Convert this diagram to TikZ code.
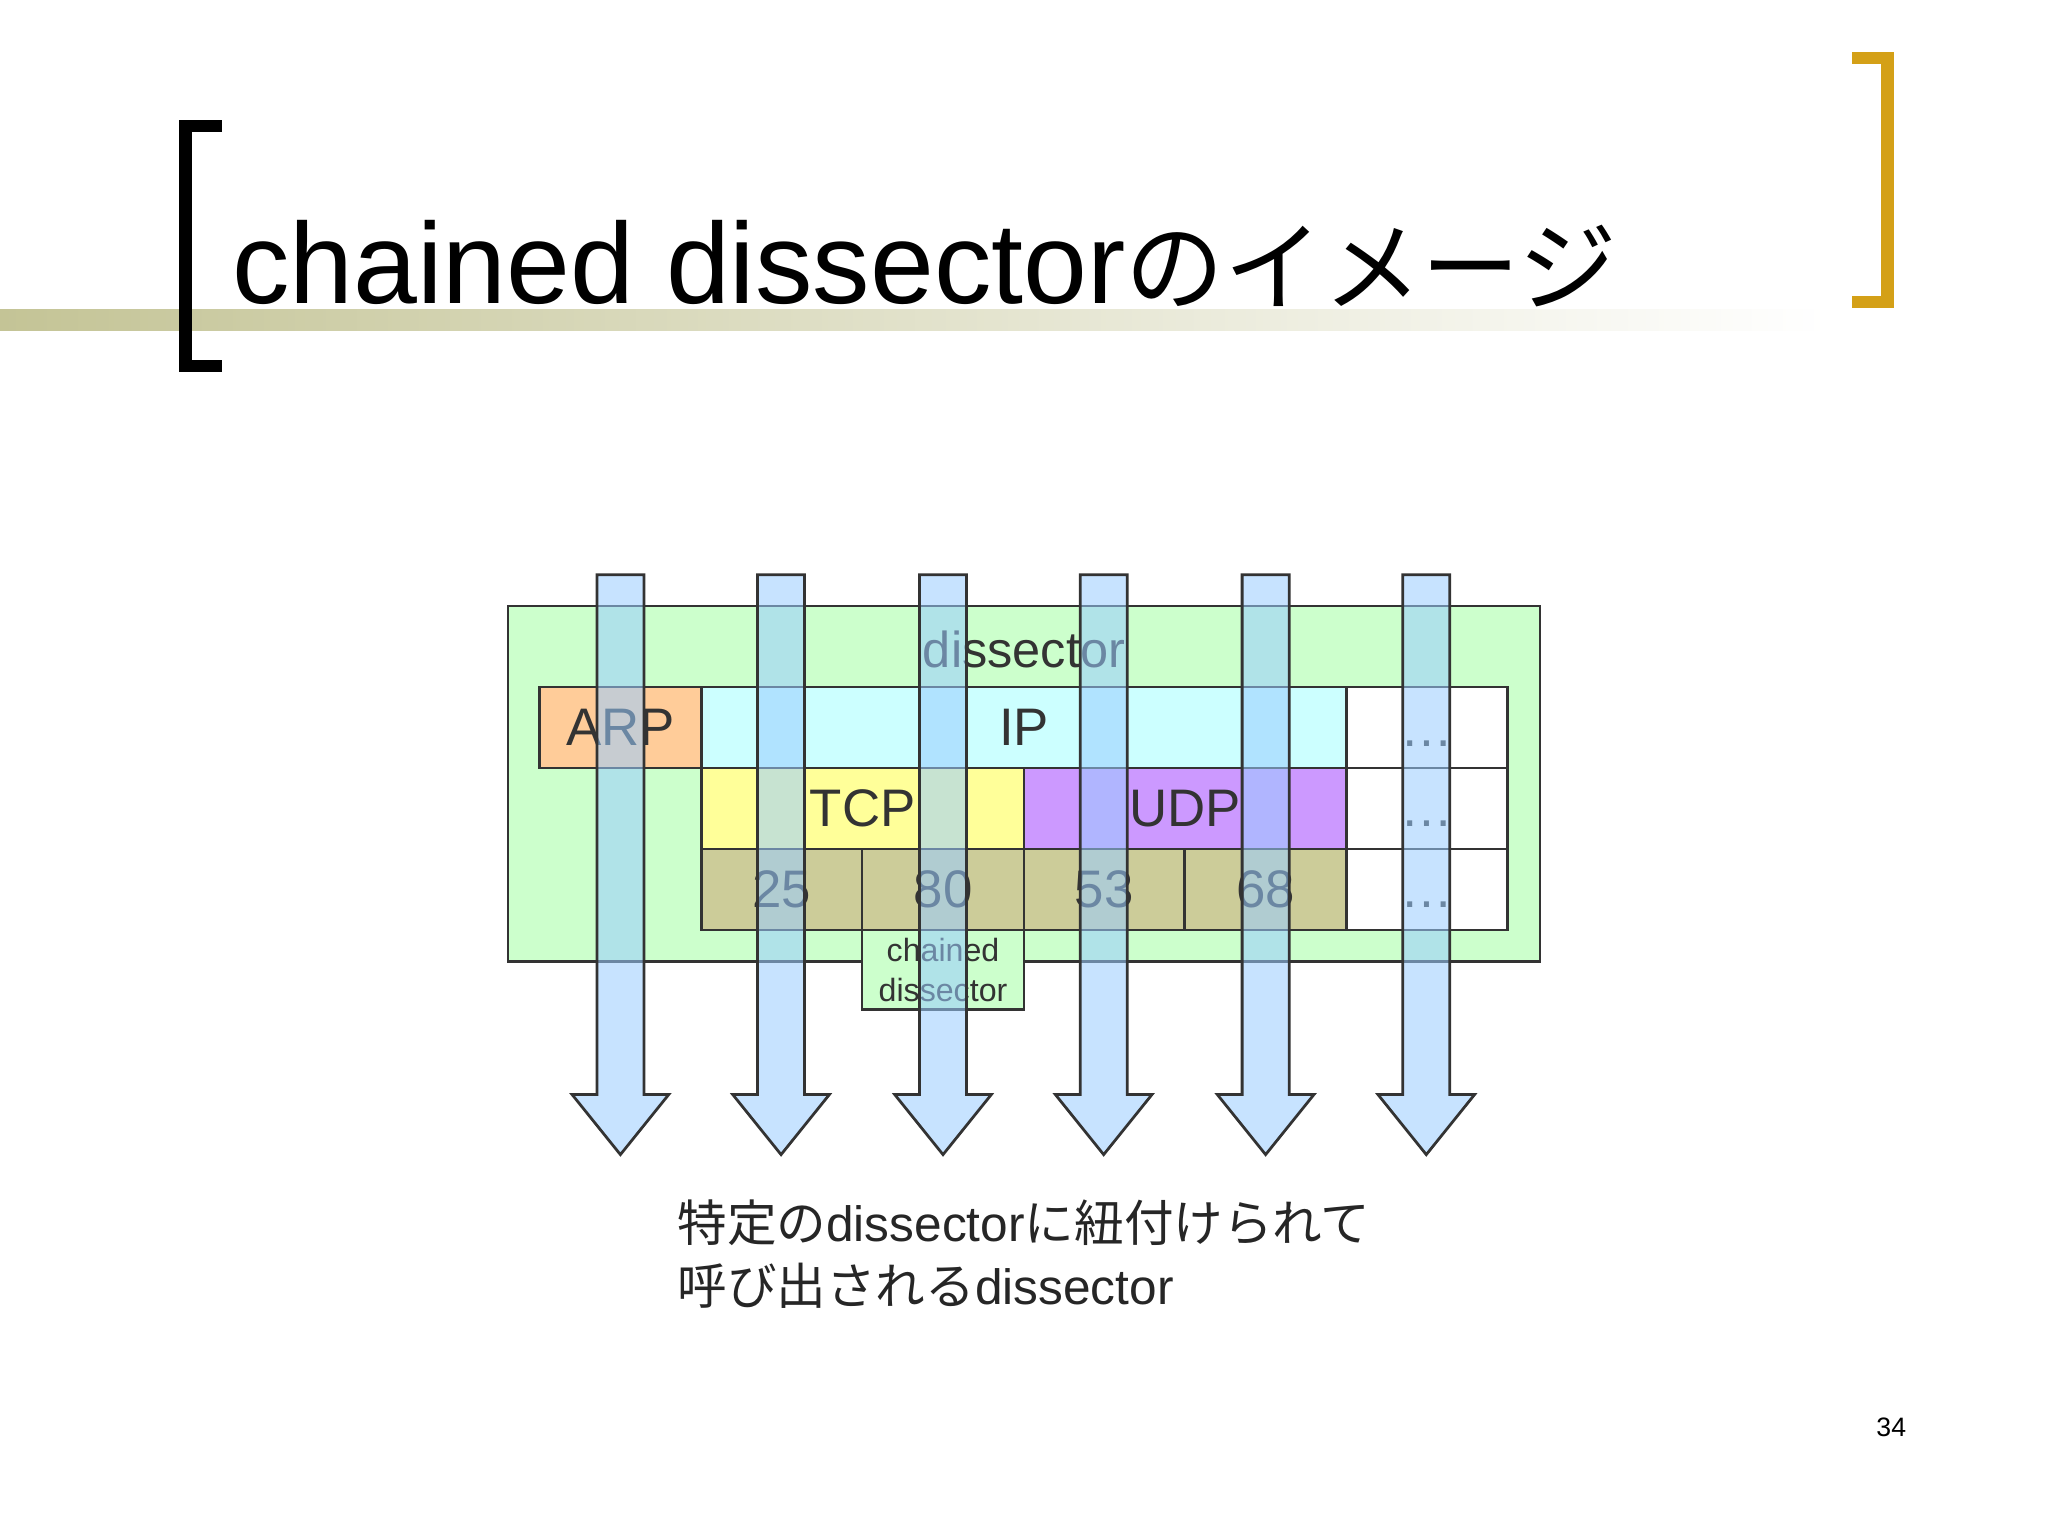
\documentclass[tikz,border=0pt]{standalone}
\usepackage{fontspec}
\setmainfont{Liberation Sans}
\newfontfamily\jp{Noto Sans CJK JP}
\definecolor{bgreen}{HTML}{CCFFCC}
\definecolor{borange}{HTML}{FFCC99}
\definecolor{bcyan}{HTML}{CCFFFF}
\definecolor{byellow}{HTML}{FFFF99}
\definecolor{bpurple}{HTML}{CC99FF}
\definecolor{btan}{HTML}{CCCC99}
\definecolor{barrow}{HTML}{99CCFF}
\definecolor{gold}{HTML}{D4A017}
\definecolor{olive}{HTML}{C4C496}
\begin{document}
\begin{tikzpicture}[x=0.01cm,y=-0.01cm,
  cell/.style={draw=black!80,line width=0.6pt,font=\fontsize{11.5}{12}\selectfont,text=black!80},
  dots/.style={yshift=-1.2mm},
  arr/.style={draw=black!80,line width=0.6pt,fill=barrow,fill opacity=0.55}]
\useasboundingbox[fill=white] (0,0) rectangle (1568,1176);
% title bar
\shade[left color=olive,right color=white] (0,237) rectangle (1400,253);
\fill[black] (137,92) rectangle (147,285);
\fill[black] (137,92) rectangle (170,101);
\fill[black] (137,276) rectangle (170,285);
\fill[gold] (1440,40) rectangle (1450,236);
\fill[gold] (1418,40) rectangle (1450,49);
\fill[gold] (1418,227) rectangle (1450,236);
\node[anchor=base west,inner sep=0] (title) at (177,232) {\fontsize{25}{30}\selectfont chained dissector{\jp\fontsize{21.5}{30}\selectfont のイメージ}};
% main box
\draw[cell,fill=bgreen] (389,464) rectangle (1179,736);
\node[text=black!80,font=\fontsize{11}{11}\selectfont] (dis) at (784,497) {dissector};
\draw[cell,fill=borange] (413,526) rectangle node (arp) {ARP} (537,588);
\draw[cell,fill=bcyan] (537,526) rectangle node (ip) {IP} (1031,588);
\draw[cell,fill=white] (1031,526) rectangle node[dots] (d1) {…} (1154,588);
\draw[cell,fill=byellow] (537,588) rectangle node (tcp) {TCP} (784,650);
\draw[cell,fill=bpurple] (784,588) rectangle node (udp) {UDP} (1031,650);
\draw[cell,fill=white] (1031,588) rectangle node[dots] (d2) {…} (1154,650);
\draw[cell,fill=btan] (537,650) rectangle node (p25) {25} (660,712);
\draw[cell,fill=btan] (660,650) rectangle node (p80) {80} (784,712);
\draw[cell,fill=btan] (784,650) rectangle node (p53) {53} (907,712);
\draw[cell,fill=btan] (907,650) rectangle node (p68) {68} (1031,712);
\draw[cell,fill=white] (1031,650) rectangle node[dots] (d3) {…} (1154,712);
\draw[cell,fill=bgreen] (660,712) rectangle node[align=center,font=\fontsize{7}{8.7}\selectfont] (cd) {chained\\dissector} (784,773);
% arrows
\foreach \c in {475,598,722,845,969,1092}{
  \draw[arr] (\c-18,440) -- (\c+18,440) -- (\c+18,838) -- (\c+37,838) -- (\c,884) -- (\c-37,838) -- (\c-18,838) -- cycle;
}
\node[anchor=north west,inner sep=0,align=left,font=\fontsize{10.8}{13.6}\selectfont\jp,text=black!85] (txt) at (518,918) {特定の{\rmfamily dissector}に紐付けられて\\呼び出される{\rmfamily dissector}};
\node[font=\fontsize{5.8}{6}\selectfont] (pg) at (1448,1093) {34};
\end{tikzpicture}
\end{document}
